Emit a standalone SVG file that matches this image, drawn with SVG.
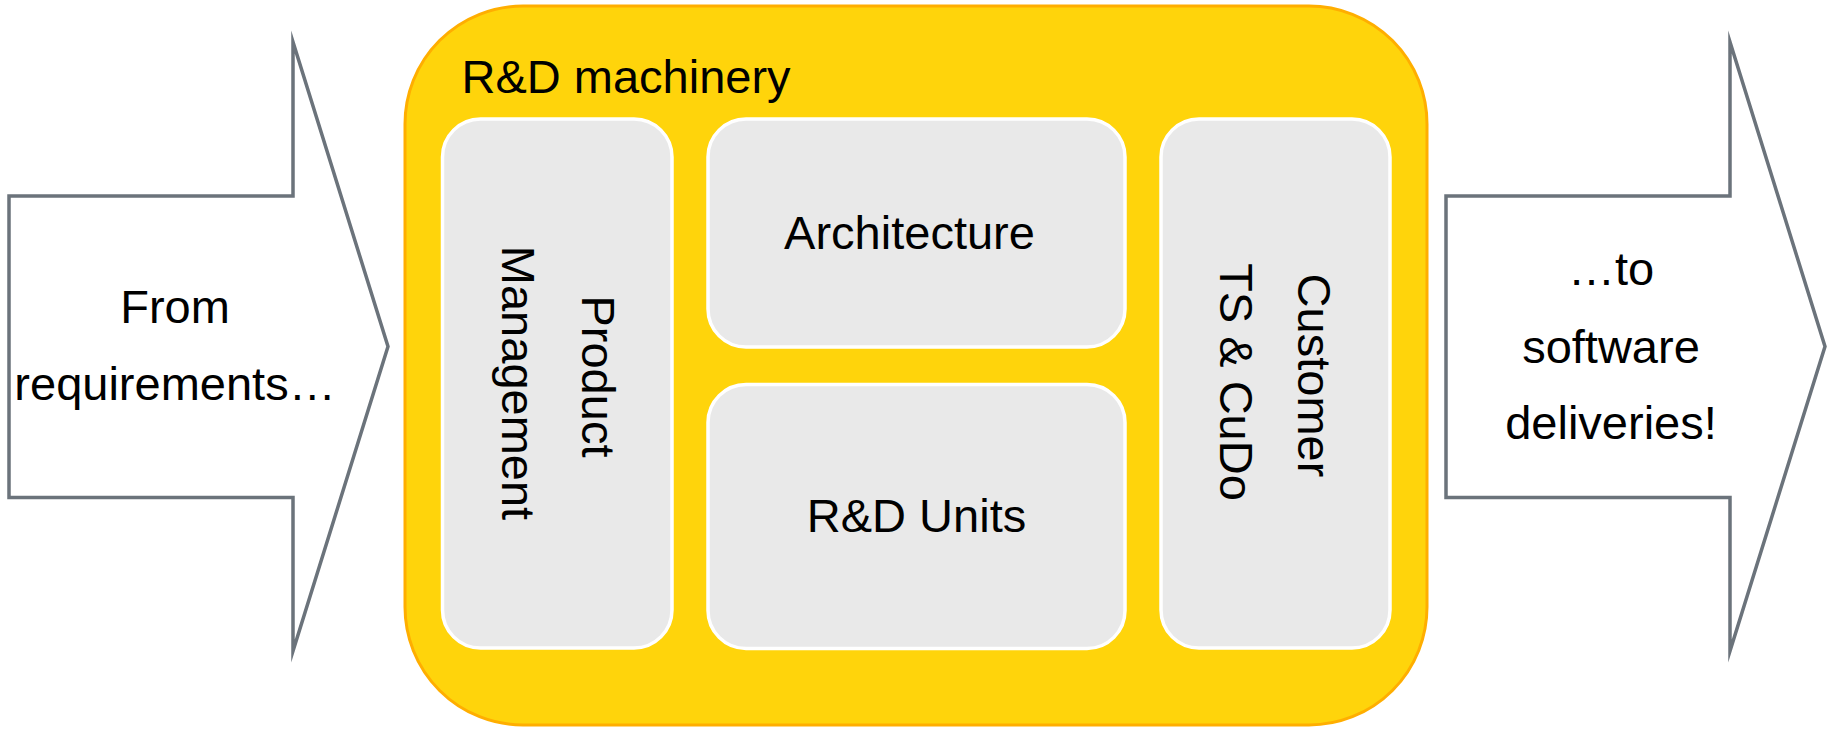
<svg xmlns="http://www.w3.org/2000/svg" width="1833" height="730" viewBox="0 0 1833 730">
  <style>
    .arrow { fill: #FFFFFF; stroke: #6B737B; stroke-width: 3.5; stroke-linejoin: miter; stroke-miterlimit: 30; }
    .frame { fill: #FFD40B; stroke: #FFAE00; stroke-width: 3; }
    .box { fill: #E9E9E9; stroke: #FFFFFF; stroke-width: 3.5; }
    .t { font-family: "Liberation Sans", Arial, sans-serif; font-size: 47px; fill: #000000; }
    .c { text-anchor: middle; }
  </style>
  <rect width="1833" height="730" fill="#FFFFFF"/>

  <g id="input-arrow">
    <polygon class="arrow" points="9,196 293,196 293,42 388,346.5 293,651 293,497.5 9,497.5"/>
    <text class="t c" x="175" y="322.7">From</text>
    <text class="t c" x="175" y="400">requirements…</text>
  </g>

  <g id="output-arrow">
    <polygon class="arrow" points="1446,196 1730,196 1730,42 1825,346.5 1730,651 1730,497.5 1446,497.5"/>
    <text class="t c" x="1611" y="285">…to</text>
    <text class="t c" x="1611" y="362.5">software</text>
    <text class="t c" x="1611" y="439.3">deliveries!</text>
  </g>

  <g id="rd-machinery">
    <rect class="frame" x="405" y="6" width="1022" height="719" rx="118" ry="118"/>
    <text class="t" x="461.5" y="93.3" font-size="47.5">R&amp;D machinery</text>
  </g>

  <g id="product-management">
    <rect class="box" x="442.5" y="119" width="229.5" height="529" rx="38" ry="38"/>
    <text class="t c" transform="translate(581.7,383) rotate(90)">
      <tspan x="0" y="0">Product</tspan>
      <tspan x="0" y="80">Management</tspan>
    </text>
  </g>

  <g id="architecture">
    <rect class="box" x="708" y="119" width="417" height="228" rx="38" ry="38"/>
    <text class="t c" x="909.5" y="249">Architecture</text>
  </g>

  <g id="rd-units">
    <rect class="box" x="708" y="384.5" width="417" height="264" rx="38" ry="38"/>
    <text class="t c" x="916.5" y="532">R&amp;D Units</text>
  </g>

  <g id="customer-ts-cudo">
    <rect class="box" x="1161" y="119" width="229" height="529" rx="38" ry="38"/>
    <text class="t c" transform="translate(1298,382) rotate(90)">
      <tspan x="0" y="0">Customer</tspan>
      <tspan x="0" y="78">TS &amp; CuDo</tspan>
    </text>
  </g>

  <g id="connectors"></g>
</svg>
